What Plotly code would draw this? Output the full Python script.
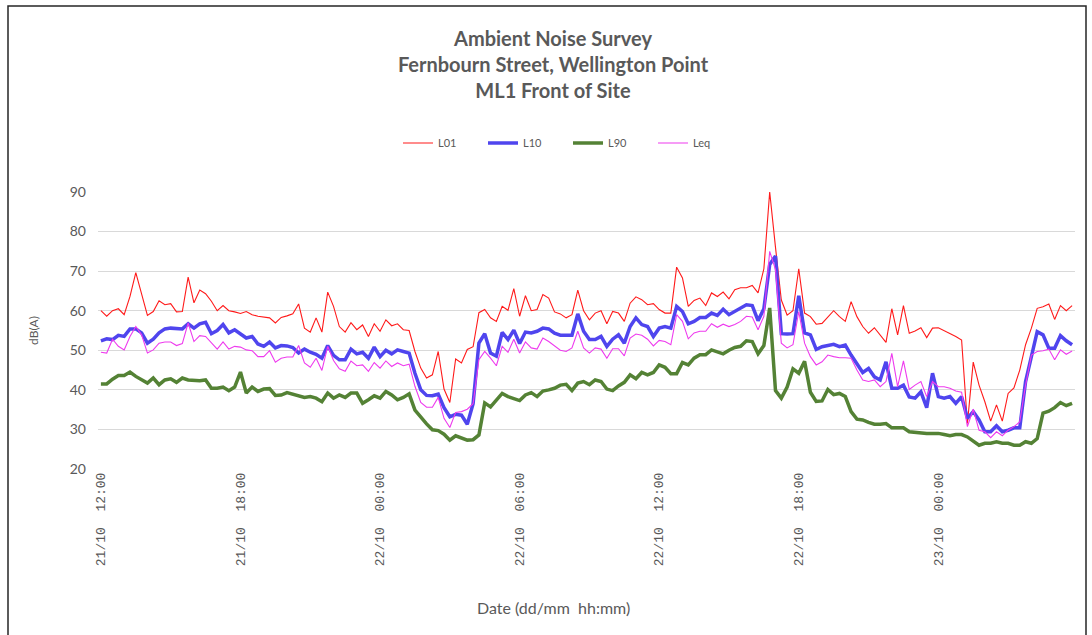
import pandas as pd
import plotly.graph_objects as go

# 15-minute intervals starting 21/10 12:00 (168 readings)
times = pd.date_range("2023-10-21 12:00", periods=168, freq="15min")

L01 = [60, 58.6, 60, 60.5, 59, 63.6, 69.6, 64, 58.8, 59.8, 62.5, 61.5, 61.8, 59.7, 59.8, 68.5,
       62, 65.2, 64.3, 62.4, 60, 61.3, 60, 59.7, 59.3, 59.8, 59, 58.6, 58.4, 58.2, 56.9, 58.3,
       58.7, 59.2, 61.7, 55.6, 54.6, 58.2, 54.6, 64.7, 61.1, 56, 54.6, 57, 55.2, 56.4, 53.5, 56.7,
       54.8, 57.7, 56.2, 56.7, 55.2, 55, 49.7, 45.5, 43, 43.8, 49.7, 40.2, 36.8, 47.8, 46.8, 50.2,
       50.9, 59.5, 60.3, 58.2, 57.3, 61.1, 60.1, 65.6, 58.6, 63.8, 60, 60.3, 64.1, 63.2, 59.7, 59.2,
       58.2, 59, 65.2, 60, 57.7, 59.4, 60, 56.7, 59.8, 59.4, 57.3, 61.9, 63.5, 62.8, 61.5, 61.8,
       60.3, 59.4, 59.4, 71, 68.3, 61.1, 62.6, 63.2, 61.3, 64.5, 63.6, 64.7, 63, 65.3, 65.8, 65.8,
       66.4, 64.5, 70.6, 90, 76, 62.7, 58.9, 60, 70.6, 59.4, 58.5, 56.6, 56.8, 58.5, 60, 58.5,
       57.3, 62.3, 58.5, 56, 54.3, 55.7, 53.7, 52, 60.5, 53.9, 61.3, 54.3, 54.9, 55.7, 53.2, 55.6,
       55.7, 55, 54.1, 53.5, 52.6, 31.5, 47, 41.2, 37, 32.1, 36.2, 32.1, 39.1, 40.5, 45, 51.4,
       55.6, 60.6, 61, 61.7, 57.8, 61.3, 60, 61.3]

L10 = [52.4, 52.9, 52.7, 53.8, 53.5, 55.4, 55.4, 54.4, 51.8, 52.8, 54.4, 55.4, 55.6, 55.4, 55.4, 56.7,
       55.6, 56.7, 57.1, 54.2, 55, 56.5, 54.4, 55.2, 54.2, 53.1, 53.5, 51.6, 51, 52.1, 50.6, 51.2,
       51.1, 50.7, 49.3, 50.3, 49.5, 49, 48, 51.2, 48.7, 47.6, 47.6, 50.3, 49.1, 49.5, 48, 50.8,
       48.4, 50, 49.1, 50.1, 49.7, 49.3, 44.2, 40, 38.6, 38.5, 38.9, 35.5, 33.2, 33.8, 33.6, 31.3,
       36.5, 51.8, 54.2, 49.3, 48.5, 54.5, 52.7, 55.1, 51.7, 54.6, 54.4, 54.8, 55.6, 55.4, 54.3, 53.8,
       53.8, 53.8, 59.2, 54.8, 52.7, 52.7, 53.5, 51, 52.8, 53.9, 51.8, 56, 58.2, 56.5, 56, 53.5,
       55.6, 56, 55.6, 61.1, 59.8, 56.7, 57.3, 58.3, 58.3, 59.4, 58.8, 60.4, 59, 59.8, 60.7, 61.5,
       61.3, 57.5, 60.5, 71.7, 73.8, 54.2, 54.1, 54.2, 63.8, 54.4, 53.9, 50.2, 50.9, 51.3, 51.5, 50.9,
       51.3, 48.8, 46.7, 44.4, 45.4, 43.3, 42.5, 47.1, 40.4, 40.4, 41.2, 38.2, 37.9, 39.5, 35.5, 44.2,
       38.3, 37.9, 38.3, 36.6, 38.3, 32.8, 34.5, 32.4, 29.4, 29.4, 30.9, 29.4, 29.8, 30.4, 30.4, 42.1,
       48.4, 54.7, 53.9, 50.5, 50.5, 53.7, 52.4, 51.4]

L90 = [41.5, 41.5, 42.7, 43.6, 43.6, 44.5, 43.4, 42.5, 41.7, 43, 41.3, 42.5, 42.8, 41.9, 43, 42.5,
       42.3, 42.3, 42.5, 40.4, 40.4, 40.7, 39.8, 40.7, 44.5, 39.2, 40.7, 39.6, 40.2, 40.3, 38.6, 38.7,
       39.3, 38.9, 38.5, 38.1, 38.3, 37.9, 37, 39.2, 37.9, 38.7, 38.1, 39.2, 39.2, 36.6, 37.5, 38.5,
       37.9, 39.6, 38.7, 37.5, 38.1, 39, 34.9, 33.1, 31.4, 29.9, 29.7, 28.8, 27.3, 28.4, 27.8, 27.3,
       27.4, 28.6, 36.7, 35.7, 37.4, 39.1, 38.3, 37.8, 37.3, 38.7, 39.3, 38.3, 39.7, 40, 40.4, 41.2,
       41.4, 39.8, 41.7, 42.1, 41.3, 42.5, 42.1, 40.2, 39.8, 41, 41.9, 43.8, 42.8, 44.4, 43.8, 44.4,
       46.3, 45.7, 44.1, 44.1, 46.9, 46.3, 48, 48.9, 48.9, 50.1, 49.5, 49.1, 50, 50.7, 51, 52.4,
       52.2, 49.1, 51.2, 60.7, 39.8, 37.9, 40.7, 45.3, 44.2, 47.2, 39.4, 37.1, 37.2, 40.1, 38.8, 39.1,
       38.3, 34.5, 32.6, 32.4, 31.8, 31.3, 31.3, 31.5, 30.4, 30.5, 30.4, 29.4, 29.2, 29.2, 29, 29,
       29, 28.7, 28.4, 28.7, 28.7, 28.1, 27, 26, 26.5, 26.5, 26.9, 26.5, 26.5, 26, 26, 26.9,
       26.5, 27.7, 34.1, 34.6, 35.5, 36.8, 36, 36.6]

Leq = [49.5, 49.3, 52.8, 51, 50.1, 53.5, 56, 53.9, 49.3, 50.1, 51.8, 52.1, 52.1, 51.2, 51.7, 56.9,
       52.2, 53.7, 53.5, 51.8, 50.3, 52.1, 50.3, 51, 50.8, 50.1, 49.9, 48.4, 48.4, 49.9, 47, 48,
       48.3, 48.3, 51.2, 46.8, 45.7, 48, 44.9, 51, 47.4, 45.3, 44.7, 47.3, 46.1, 46.3, 44.7, 46.9,
       45.5, 47.3, 45.9, 46.8, 46.1, 46.5, 40.9, 36.8, 35.6, 35.6, 38.1, 32.8, 30.5, 34.3, 34.5, 35.1,
       36.5, 47.6, 49.7, 48, 46.1, 51, 49.5, 52.8, 49.3, 52.1, 50.6, 50.3, 53.1, 52.2, 51.2, 50,
       49.7, 50.6, 54.8, 50.6, 49.3, 50.6, 50.3, 48, 50.4, 50.4, 48.6, 53.1, 54.1, 53.8, 52.8, 51.1,
       52.5, 52.2, 51.4, 59, 57.3, 52.9, 54.4, 54.8, 54.8, 56.7, 55.8, 56.6, 56, 56.5, 57.3, 58.6,
       58.4, 55.2, 58.6, 75, 70.4, 51.8, 50.6, 51.4, 59.8, 51.8, 48.4, 46.3, 47.1, 48.8, 48.4, 48.1,
       48.1, 48, 45, 42.5, 42.1, 42.5, 40.8, 42.1, 49.2, 40.8, 47.3, 40.1, 41.2, 42.1, 38.3, 42.1,
       40.8, 40.8, 40.4, 39.7, 39.4, 30.7, 35.1, 29.8, 29.4, 27.9, 29.4, 28.4, 29.8, 30.7, 31.9, 41.2,
       48.8, 49.7, 49.9, 50.3, 47.6, 50.1, 49, 49.8]

tick_vals = pd.date_range("2023-10-21 12:00", periods=7, freq="6h")
tick_text = ["21/10\u00a0\u00a012:00", "21/10\u00a0\u00a018:00", "22/10\u00a0\u00a000:00",
             "22/10\u00a0\u00a006:00", "22/10\u00a0\u00a012:00", "22/10\u00a0\u00a018:00",
             "23/10\u00a0\u00a000:00"]
y_ticks = [20, 30, 40, 50, 60, 70, 80, 90]

GREY = "#595959"

fig = go.Figure()
fig.add_trace(go.Scatter(x=times, y=L01, name="L01", mode="lines",
                         line=dict(color="#FF1A1A", width=1.1)))
fig.add_trace(go.Scatter(x=times, y=L10, name="L10", mode="lines",
                         line=dict(color="#4F45EE", width=3.5)))
fig.add_trace(go.Scatter(x=times, y=L90, name="L90", mode="lines",
                         line=dict(color="#548235", width=3.5)))
fig.add_trace(go.Scatter(x=times, y=Leq, name="Leq", mode="lines",
                         line=dict(color="#EE3BEE", width=1.1)))

L, R, T, B = 98, 17, 192, 166
W, H = 1092, 635
pw, ph = W - L - R, H - T - B

def px_x(p):
    return (p - L) / pw

def px_y(p):
    return (H - B - p) / ph

fig.update_layout(
    width=W, height=H,
    margin=dict(l=L, r=R, t=T, b=B),
    paper_bgcolor="white", plot_bgcolor="white",
    font=dict(family="Lato", color=GREY),
    title=dict(
        text="<b>Ambient Noise Survey</b><br><b>Fernbourn Street, Wellington Point</b><br><b>ML1 Front of Site</b>",
        x=553 / W, xanchor="center", xref="container",
        y=1 - 46 / H, yanchor="top", yref="container",
        font=dict(family="Lato", size=20, color=GREY),
    ),
    legend=dict(
        orientation="h", x=px_x(568), xanchor="center", y=px_y(143), yanchor="middle",
        font=dict(family="Lato", size=11, color=GREY),
        entrywidth=40, entrywidthmode="pixels",
        itemwidth=30, bgcolor="rgba(0,0,0,0)",
    ),
    xaxis=dict(
        range=["2023-10-21 11:52:30", "2023-10-23 05:52:30"],
        tickvals=tick_vals, ticktext=tick_text, tickangle=-90,
        tickfont=dict(family="Liberation Mono", size=13, color=GREY),
        showgrid=False, zeroline=False, showline=False, ticks="",
    ),
    yaxis=dict(
        range=[20, 90], tickvals=y_ticks,
        tickfont=dict(family="Lato", size=14, color=GREY),
        showgrid=True, gridcolor="#D9D9D9", gridwidth=1,
        zeroline=False, showline=False, ticks="", ticklabelstandoff=11,
        title=dict(text="dB(A)", standoff=28,
                   font=dict(family="Lato", size=12, color=GREY)),
    ),
    annotations=[dict(text="Date (dd/mm\u00a0\u00a0hh:mm)", xref="paper", yref="paper",
                      x=px_x(553), y=px_y(607), xanchor="center", yanchor="middle",
                      showarrow=False, font=dict(family="Lato", size=16, color=GREY))],
    shapes=[dict(type="rect", xref="paper", yref="paper",
                 x0=px_x(8), x1=px_x(1086), y0=px_y(700), y1=px_y(6),
                 line=dict(color="#262626", width=1.5), fillcolor="rgba(0,0,0,0)",
                 layer="below")],
)

fig.write_html("out.html", config={"displayModeBar": False},
               post_script="document.body.style.margin='0px';")
